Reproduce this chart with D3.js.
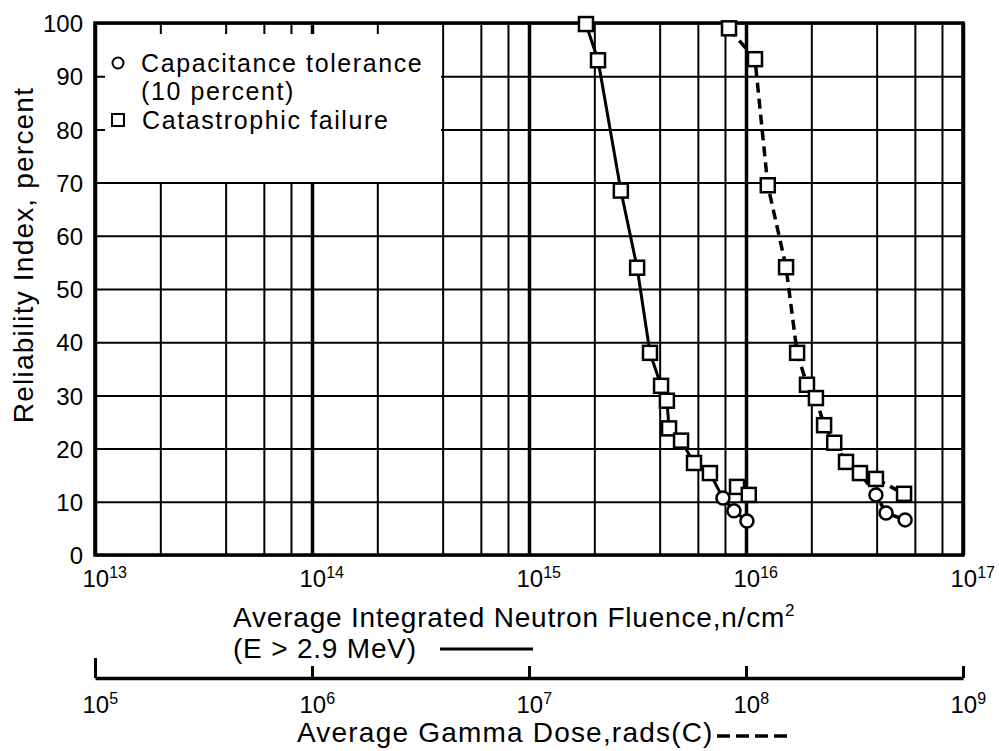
<!DOCTYPE html>
<html><head><meta charset="utf-8">
<script src="https://cdn.jsdelivr.net/npm/d3@7"></script>
<style>
body{margin:0;background:#fff}
text{font-family:"Liberation Sans",Arial,sans-serif;fill:#000}
</style>
</head><body>
<svg id="c" width="999" height="751"></svg>
<script>
// ---- data ----
const yTicks = [0,10,20,30,40,50,60,70,80,90,100];
const neutronDecades = [1e13,1e14,1e15,1e16,1e17];
const neutronExponents = ["13","14","15","16","17"];
const gammaDecades = [1e5,1e6,1e7,1e8,1e9];
const gammaExponents = ["5","6","7","8","9"];
const minorMultipliers = [2,4,6,8];

// Neutron fluence (solid line)
const neutronSquareX = [1.83e15,2.08e15,2.65e15,3.15e15,3.61e15,4.06e15,4.32e15,4.42e15,5.02e15,5.76e15,6.82e15,9.09e15,1.03e16];
const neutronSquareY = [99.8,93,68.5,54,38,31.8,29,23.8,21.5,17.3,15.4,12.8,11.3];
const neutronCircleX = [7.83e15,8.80e15,1.01e16];
const neutronCircleY = [10.7,8.3,6.4];

// Gamma dose (dashed line)
const gammaSquareX = [8.35e7,1.10e8,1.26e8,1.53e8,1.72e8,1.91e8,2.10e8,2.29e8,2.55e8,2.89e8,3.35e8,3.97e8,5.35e8];
const gammaSquareY = [99,93.2,69.5,54.1,38,32,29.5,24.4,21.1,17.5,15.4,14.3,11.5];
const gammaCircleX = [3.97e8,4.42e8,5.41e8];
const gammaCircleY = [11.3,7.9,6.6];
const branchIndex = 11; // squares before this index lead into the circles

// ---- layout ----
const svg = d3.select("#c");
const L = 95, R = 963, T = 23, B = 555;
const x = d3.scaleLog().domain([1e13,1e17]).range([L,R]);
const xg = d3.scaleLog().domain([1e5,1e9]).range([L,R]);
const y = d3.scaleLinear().domain([0,100]).range([B,T]);

// vertical grid
const gridVals = [];
neutronDecades.slice(0,-1).forEach(d => minorMultipliers.forEach(m => gridVals.push(d*m)));
const allV = gridVals.concat(neutronDecades);
const xGrid = svg.append("g").attr("transform",`translate(0,${B})`)
  .call(d3.axisBottom(x).tickValues(allV).tickSize(-(B-T)).tickFormat(""));
xGrid.select(".domain").remove();
xGrid.selectAll(".tick line").attr("stroke","#000")
  .attr("stroke-width", d => neutronDecades.includes(d) ? 3.5 : 2);

// horizontal grid + y labels
const yAx = svg.append("g").attr("transform",`translate(${L},0)`)
  .call(d3.axisLeft(y).tickValues(yTicks).tickSize(-(R-L)).tickPadding(12));
yAx.select(".domain").remove();
yAx.selectAll(".tick line").attr("stroke","#000").attr("stroke-width",2);
yAx.selectAll(".tick text").attr("font-size",24).attr("font-family","Liberation Sans, Arial, sans-serif").attr("fill","#000").attr("dy","0.36em");

// legend background
svg.append("rect").attr("x",105).attr("y",34).attr("width",336).attr("height",148).attr("fill","#fff");

// frame
svg.append("rect").attr("x",L).attr("y",T).attr("width",R-L).attr("height",B-T)
  .attr("fill","none").attr("stroke","#000").attr("stroke-width",3.5);

// x labels (neutron)
const xLab = svg.append("g").attr("transform",`translate(0,${B})`)
  .call(d3.axisBottom(x).tickValues(neutronDecades).tickSize(0).tickFormat(""));
xLab.select(".domain").remove();
xLab.selectAll(".tick text").each(function(d,i){
  const t = d3.select(this).attr("y",32).attr("dy",0).attr("x",-13)
    .attr("text-anchor","start").attr("font-size",24)
    .attr("font-family","Liberation Sans, Arial, sans-serif").attr("fill","#000");
  t.append("tspan").text("10");
  t.append("tspan").attr("font-size",16).attr("dy",-9).text(neutronExponents[i]);
});

// data
function pts(xs, ys){ return xs.map((v,i)=>({v, r: ys[i]})); }
const nSq = pts(neutronSquareX, neutronSquareY);
const nCi = pts(neutronCircleX, neutronCircleY);
const gSq = pts(gammaSquareX, gammaSquareY);
const gCi = pts(gammaCircleX, gammaCircleY);

const lineN = d3.line().x(d => x(d.v)).y(d => y(d.r));
const lineG = d3.line().x(d => xg(d.v)).y(d => y(d.r));

const solidStyle = p => p.attr("fill","none").attr("stroke","#000").attr("stroke-width",3);
svg.append("path").datum(nSq.slice(0,branchIndex).concat(nCi)).attr("d",lineN).call(solidStyle);
svg.append("path").datum(nSq.slice(branchIndex)).attr("d",lineN).call(solidStyle);
svg.append("path").datum(gSq.slice(0,branchIndex).concat(gCi)).attr("d",lineG).call(solidStyle).attr("stroke-dasharray","10,6").attr("stroke-width",3.5);
svg.append("path").datum(gSq.slice(branchIndex)).attr("d",lineG).call(solidStyle).attr("stroke-dasharray","10,6").attr("stroke-width",3.5);

const SQ = 14;
function squares(data, sc){
  svg.append("g").selectAll("rect").data(data).join("rect")
    .attr("x",d=>sc(d.v)-SQ/2).attr("y",d=>y(d.r)-SQ/2).attr("width",SQ).attr("height",SQ)
    .attr("fill","#fff").attr("stroke","#000").attr("stroke-width",2.5);
}
function circles(data, sc){
  svg.append("g").selectAll("circle").data(data).join("circle")
    .attr("cx",d=>sc(d.v)).attr("cy",d=>y(d.r)).attr("r",6.5)
    .attr("fill","#fff").attr("stroke","#000").attr("stroke-width",2.5);
}
squares(nSq, x); circles(nCi, x);
squares(gSq, xg); circles(gCi, xg);

// legend
const lg = svg.append("g");
lg.append("circle").attr("cx",118).attr("cy",63).attr("r",5.5).attr("fill","#fff").attr("stroke","#000").attr("stroke-width",2);
lg.append("rect").attr("x",112).attr("y",114).attr("width",12).attr("height",12).attr("fill","#fff").attr("stroke","#000").attr("stroke-width",2);
const lgText = [["Capacitance tolerance",141,72],["(10 percent)",141,100],["Catastrophic failure",142,129]];
lg.selectAll("text").data(lgText).join("text")
  .attr("x",d=>d[1]).attr("y",d=>d[2]).attr("font-size",25).attr("letter-spacing",1.6).text(d=>d[0]);

// y title
svg.append("text").attr("transform","translate(33,255) rotate(-90)")
  .attr("text-anchor","middle").attr("font-size",28).attr("letter-spacing",1.2)
  .text("Reliability Index, percent");

// x title (neutron)
const xt = svg.append("text").attr("x",233).attr("y",627).attr("font-size",28).attr("letter-spacing",0.8);
xt.append("tspan").text("Average Integrated Neutron Fluence,n/cm");
xt.append("tspan").attr("font-size",17).attr("dy",-11).text("2");
svg.append("text").attr("x",233).attr("y",658).attr("font-size",28).attr("letter-spacing",0.8).text("(E > 2.9 MeV)");
svg.append("line").attr("x1",440).attr("x2",533).attr("y1",649).attr("y2",649).attr("stroke","#000").attr("stroke-width",3);

// gamma axis
const GY = 678;
const gAx = svg.append("g").attr("transform",`translate(0,${GY})`)
  .call(d3.axisBottom(xg).tickValues(gammaDecades).tickSizeInner(-12).tickSizeOuter(0).tickPadding(0).tickFormat(""));
gAx.select(".domain").attr("stroke","#000").attr("stroke-width",3.5);
gAx.selectAll(".tick line").attr("stroke","#000").attr("stroke-width",3)
  .attr("y2",(d,i)=> i===0 ? -20 : -12);
gAx.selectAll(".tick text").each(function(d,i){
  const t = d3.select(this).attr("y",35).attr("dy",0).attr("x",-13)
    .attr("text-anchor","start").attr("font-size",24)
    .attr("font-family","Liberation Sans, Arial, sans-serif").attr("fill","#000");
  t.append("tspan").text("10");
  t.append("tspan").attr("font-size",16).attr("dy",-9).text(gammaExponents[i]);
});

svg.append("text").attr("x",297).attr("y",742).attr("font-size",28).attr("letter-spacing",1.2).text("Average Gamma Dose,rads(C)");
svg.append("line").attr("x1",717).attr("x2",790).attr("y1",736).attr("y2",736).attr("stroke","#000").attr("stroke-width",3.5).attr("stroke-dasharray","13,6");
</script>
</body></html>
